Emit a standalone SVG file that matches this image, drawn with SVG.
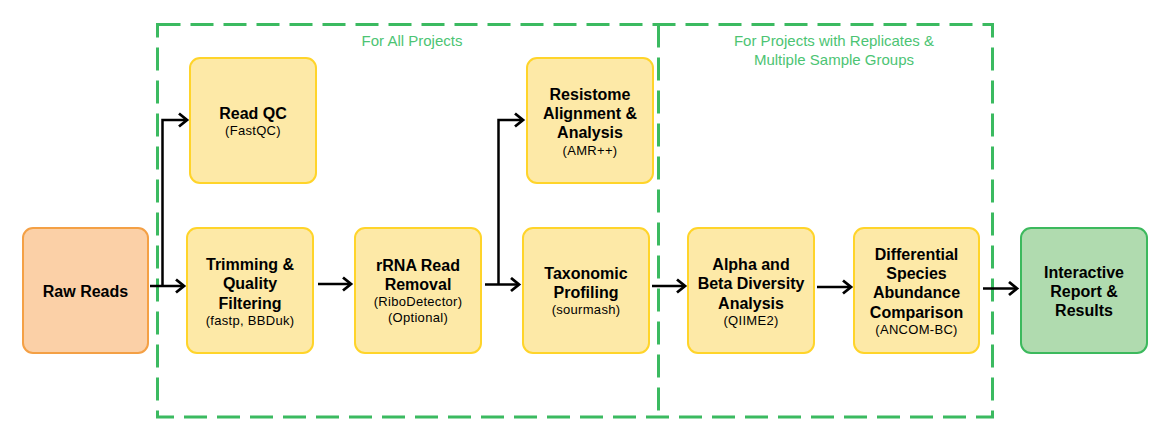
<svg xmlns="http://www.w3.org/2000/svg" width="1163" height="448" viewBox="0 0 1163 448">
<defs>
<marker id="ah" markerWidth="13" markerHeight="16" refX="10" refY="8" orient="auto" markerUnits="userSpaceOnUse">
<path d="M2,1.5 L10,8 L2,14.5" fill="none" stroke="#000" stroke-width="2.8"/>
</marker>
<style>
.y{fill:#FDE9A7;stroke:#FFD42A;stroke-width:2}
.o{fill:#FBD0A7;stroke:#F4A045;stroke-width:2}
.g{fill:#B0DBAF;stroke:#3CB95D;stroke-width:2}
.t{font-family:"Liberation Sans",Arial,sans-serif;font-weight:bold;font-size:16px;fill:#000;text-anchor:middle}
.s{font-family:"Liberation Sans",Arial,sans-serif;font-size:13px;letter-spacing:0.3px;fill:#000;text-anchor:middle}
.gl{font-family:"Liberation Sans",Arial,sans-serif;font-size:15px;fill:#4CC473;text-anchor:middle}
.d{fill:none;stroke:#3BBA60;stroke-width:3;stroke-dasharray:23 10}
.c{fill:none;stroke:#000;stroke-width:2.5;marker-end:url(#ah)}
</style>
</defs>
<rect width="1163" height="448" fill="#fff"/>
<g id="groups">
<rect class="d" x="157.5" y="24.5" width="835" height="392.5"/>
<path class="d" d="M658.5,24.5 V417"/>
<text class="gl" x="412" y="46">For All Projects</text>
<text class="gl" x="834" y="46">For Projects with Replicates &amp;</text>
<text class="gl" x="834" y="65">Multiple Sample Groups</text>
</g>
<g id="connectors">
<path class="c" d="M150,286 H184"/>
<path class="c" d="M162.5,286 V120 H187"/>
<path class="c" d="M318,284 H351"/>
<path class="c" d="M485,284.5 H519"/>
<path class="c" d="M498.5,284.5 V120 H523"/>
<path class="c" d="M652,286 H685"/>
<path class="c" d="M817,287 H851"/>
<path class="c" d="M983,288.5 H1017"/>
</g>
<g id="raw">
<rect class="o" x="23" y="228" width="125" height="125" rx="10"/>
<text class="t" x="85.5" y="297">Raw Reads</text>
</g>
<g id="readqc">
<rect class="y" x="190" y="58" width="126" height="125" rx="10"/>
<text class="t" x="253" y="119">Read QC</text>
<text class="s" x="253" y="135">(FastQC)</text>
</g>
<g id="trim">
<rect class="y" x="187" y="228" width="126" height="125" rx="10"/>
<text class="t" x="250" y="270">Trimming &amp;</text>
<text class="t" x="250" y="289">Quality</text>
<text class="t" x="250" y="308.5">Filtering</text>
<text class="s" x="250" y="325">(fastp, BBDuk)</text>
</g>
<g id="rrna">
<rect class="y" x="355" y="228" width="126" height="125" rx="10"/>
<text class="t" x="418" y="271">rRNA Read</text>
<text class="t" x="418" y="290">Removal</text>
<text class="s" x="418" y="306">(RiboDetector)</text>
<text class="s" x="418" y="322">(Optional)</text>
</g>
<g id="resistome">
<rect class="y" x="527" y="58" width="126" height="125" rx="10"/>
<text class="t" x="590" y="100">Resistome</text>
<text class="t" x="590" y="119">Alignment &amp;</text>
<text class="t" x="590" y="138">Analysis</text>
<text class="s" x="590" y="154.5">(AMR++)</text>
</g>
<g id="taxonomic">
<rect class="y" x="523" y="228" width="126" height="125" rx="10"/>
<text class="t" x="586" y="279">Taxonomic</text>
<text class="t" x="586" y="298">Profiling</text>
<text class="s" x="586" y="314">(sourmash)</text>
</g>
<g id="alpha">
<rect class="y" x="688" y="228" width="126" height="125" rx="10"/>
<text class="t" x="751" y="270">Alpha and</text>
<text class="t" x="751" y="289">Beta Diversity</text>
<text class="t" x="751" y="308.5">Analysis</text>
<text class="s" x="751" y="325">(QIIME2)</text>
</g>
<g id="diff">
<rect class="y" x="854" y="228" width="125" height="125" rx="10"/>
<text class="t" x="916.5" y="260">Differential</text>
<text class="t" x="916.5" y="279">Species</text>
<text class="t" x="916.5" y="298">Abundance</text>
<text class="t" x="916.5" y="317.5">Comparison</text>
<text class="s" x="916.5" y="334">(ANCOM-BC)</text>
</g>
<g id="report">
<rect class="g" x="1021" y="228" width="126" height="125" rx="10"/>
<text class="t" x="1084" y="278">Interactive</text>
<text class="t" x="1084" y="297">Report &amp;</text>
<text class="t" x="1084" y="316">Results</text>
</g>
</svg>
